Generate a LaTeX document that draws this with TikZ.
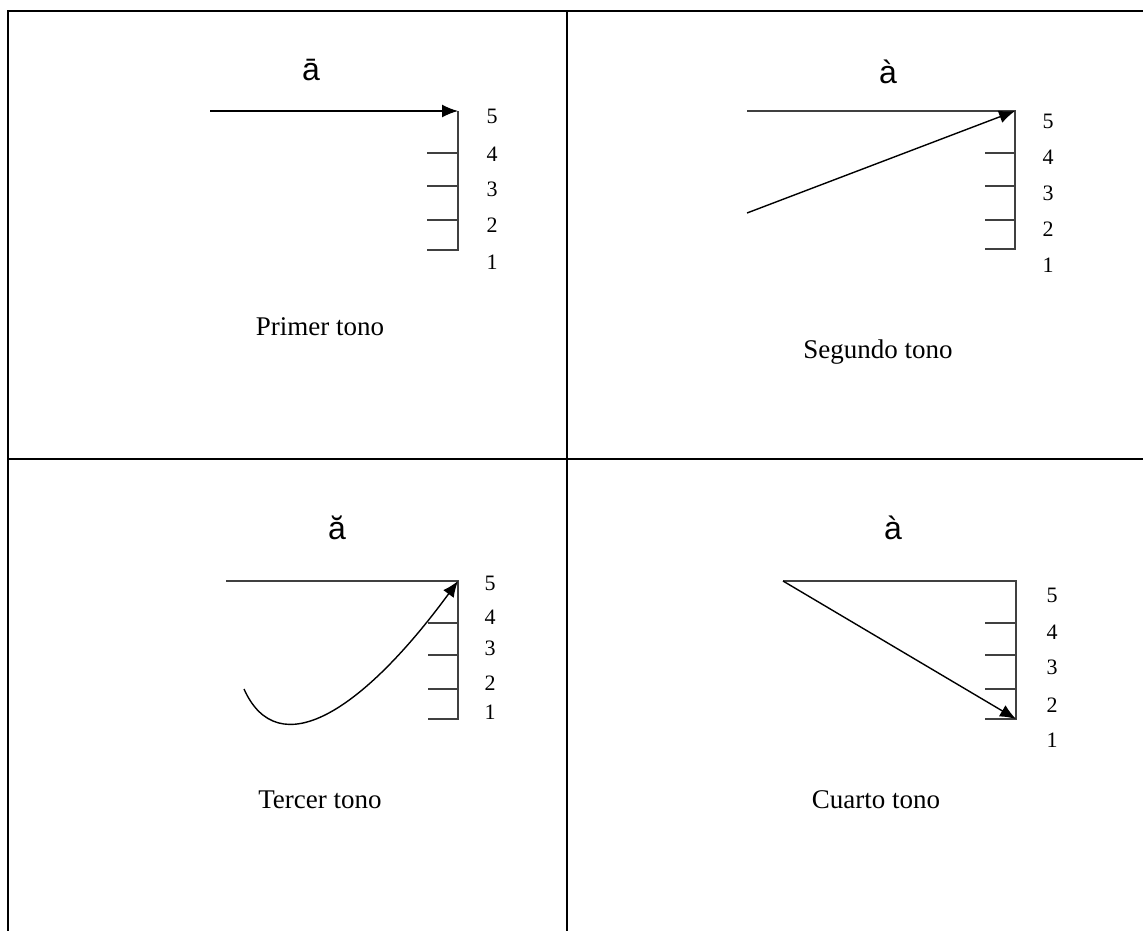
\documentclass[tikz,border=0pt]{standalone}
\usepackage{fontspec}
\setmainfont{Liberation Serif}
\newfontfamily\tonefont{Liberation Sans}
\usetikzlibrary{arrows.meta}

\tikzset{
  grid line/.style={line width=1pt},
  scale line/.style={line width=0.8pt, black!75},
  tone line/.style={line width=0.7pt, -{Latex[length=8pt,width=6.5pt]}},
  level/.style={font=\fontsize{11}{13}\selectfont},
  tone/.style={font=\tonefont\fontsize{16}{18}\selectfont},
  caption/.style={font=\fontsize{13.5}{16}\selectfont}
}

\begin{document}
\begin{tikzpicture}[x=0.5pt,y=-0.5pt]
  \useasboundingbox (0,0) rectangle (1143,931);

  % Table lines
  \draw[grid line] (1143,11) -- (8,11) -- (8,931);
  \draw[grid line] (567,11) -- (567,931);
  \draw[grid line] (8,459) -- (1143,459);

  % Primer tono
  \coordinate (top1) at (458,111);
  \coordinate (low1) at (458,250);
  \coordinate (start1) at (210,111);
  \draw[scale line] (top1) -- (low1) -- +(-31,0);
  \foreach \y in {153,186,220}
    \draw[scale line] (458,\y) -- +(-31,0);
  \foreach \n/\y in {5/116,4/154,3/189,2/225,1/262}
    \node[level] (lev1-\n) at (492,\y) {\n};
  \draw[tone line] (start1) -- (top1);
  \node[tone] (tone1) at (311,70) {ā};
  \node[caption] (name1) at (320,327) {Primer tono};

  % Segundo tono
  \coordinate (top2) at (1015,111);
  \coordinate (low2) at (1015,249);
  \coordinate (left2) at (747,111);
  \coordinate (start2) at (747,213);
  \draw[scale line] (left2) -- (top2) -- (low2) -- +(-30,0);
  \foreach \y in {153,186,220}
    \draw[scale line] (1015,\y) -- +(-30,0);
  \foreach \n/\y in {5/121,4/157,3/193,2/229,1/265}
    \node[level] (lev2-\n) at (1048,\y) {\n};
  \draw[tone line] (start2) -- (top2);
  \node[tone] (tone2) at (888,72) {à};
  \node[caption] (name2) at (878,352) {Segundo tono};

  % Tercer tono
  \coordinate (top3) at (458,581);
  \coordinate (low3) at (458,719);
  \coordinate (left3) at (226,581);
  \coordinate (start3) at (244,689);
  \draw[scale line] (left3) -- (top3) -- (low3) -- +(-30,0);
  \foreach \y in {623,655,689}
    \draw[scale line] (458,\y) -- +(-30,0);
  \foreach \n/\y in {5/583,4/617,3/648,2/683,1/712}
    \node[level] (lev3-\n) at (490,\y) {\n};
  \draw[tone line] (start3) .. controls (278,765) and (362,712) .. (top3);
  \node[tone] (tone3) at (337,528) {ă};
  \node[caption] (name3) at (320,800) {Tercer tono};

  % Cuarto tono
  \coordinate (top4) at (1016,581);
  \coordinate (low4) at (1016,719);
  \coordinate (start4) at (783,581);
  \draw[scale line] (start4) -- (top4) -- (low4) -- +(-31,0);
  \foreach \y in {623,655,689}
    \draw[scale line] (1016,\y) -- +(-31,0);
  \foreach \n/\y in {5/595,4/632,3/667,2/705,1/740}
    \node[level] (lev4-\n) at (1052,\y) {\n};
  \draw[tone line] (start4) -- (low4);
  \node[tone] (tone4) at (893,528) {à};
  \node[caption] (name4) at (876,800) {Cuarto tono};

\end{tikzpicture}
\end{document}
